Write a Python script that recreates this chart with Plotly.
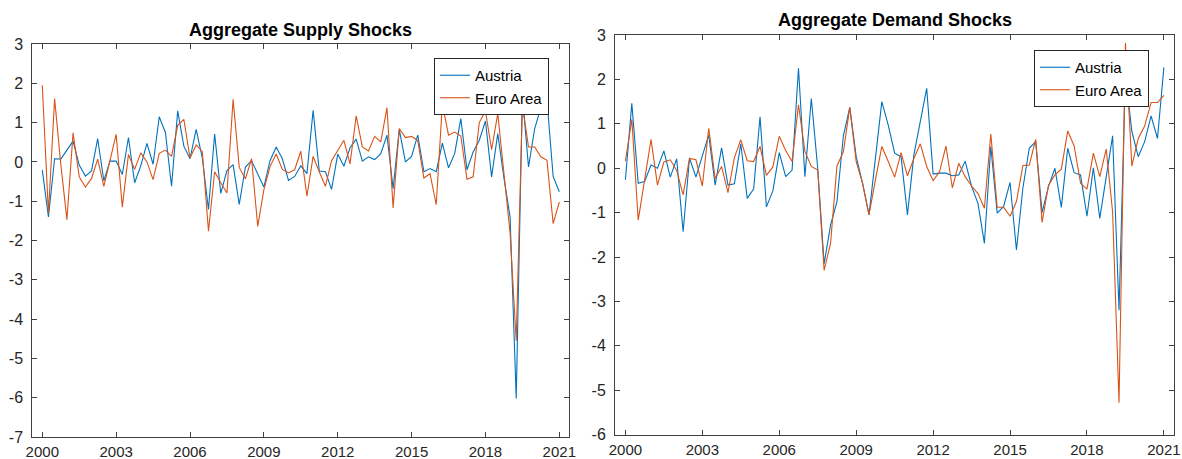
import plotly.graph_objects as go

# Quarterly observations 2000Q1 .. 2021Q1 (85 quarters), plotted as decimal years
quarters = [2000 + q / 4 for q in range(85)]

supply_austria = [
    -0.21, -1.40, 0.08, 0.07, 0.30, 0.53, -0.08, -0.36, -0.23, 0.59,
    -0.48, 0.02, 0.02, -0.32, 0.62, -0.53, -0.10, 0.47, -0.06, 1.15,
    0.75, -0.62, 1.30, 0.40, 0.08, 0.83, 0.10, -1.21, 0.71, -0.80,
    -0.22, -0.07, -1.08, -0.13, 0.03, -0.30, -0.64, 0.03, 0.38, 0.08,
    -0.47, -0.37, -0.10, -0.30, 1.31, -0.23, -0.25, -0.70, 0.20, -0.11,
    0.36, 0.58, 0.02, 0.13, 0.06, 0.21, 0.68, -0.68, 0.82, 0.00,
    0.14, 0.68, -0.25, -0.17, -0.25, 0.48, -0.15, 0.21, 1.10, -0.20,
    0.25, 0.55, 1.04, -0.38, 0.72, -0.40, -1.40, -6.02, 1.70, -0.13,
    0.85, 1.38, 1.57, -0.37, -0.76,
]
supply_euro = [
    1.95, -1.31, 1.61, -0.05, -1.47, 0.74, -0.38, -0.64, -0.42, 0.07,
    -0.62, 0.04, 0.70, -1.15, 0.19, -0.19, 0.23, 0.00, -0.45, 0.22,
    0.30, 0.14, 0.93, 1.08, 0.10, 0.43, 0.26, -1.76, -0.25, -0.53,
    -0.79, 1.59, -0.14, -0.43, 0.08, -1.64, -0.71, -0.12, 0.20, -0.19,
    -0.28, -0.20, 0.27, -0.87, 0.14, -0.25, -0.62, 0.03, 0.28, 0.55,
    -0.05, 1.17, 0.38, 0.28, 0.65, 0.51, 1.38, -1.17, 0.85, 0.62,
    0.65, 0.54, -0.41, -0.30, -1.09, 1.47, 0.68, 0.76, 0.66, -0.44,
    -0.38, 1.00, 1.30, 0.31, 1.23, -0.20, -1.80, -4.55, 1.45, 0.38,
    0.38, 0.13, 0.04, -1.57, -1.02,
]
demand_austria = [
    -0.26, 1.46, -0.34, -0.30, 0.07, 0.00, 0.39, -0.20, 0.21, -1.43,
    0.23, -0.20, 0.28, 0.75, -0.38, 0.46, -0.38, -0.35, 0.55, -0.68,
    -0.47, 1.16, -0.87, -0.51, 0.35, -0.19, -0.04, 2.25, -0.19, 1.57,
    0.00, -2.15, -1.28, -0.75, 0.73, 1.37, 0.26, -0.34, -1.05, 0.22,
    1.50, 0.97, 0.34, 0.26, -1.05, 0.30, 1.05, 1.80, -0.13, -0.11,
    -0.11, -0.17, -0.15, 0.16, -0.41, -0.79, -1.69, 0.49, -1.01, -0.86,
    -0.32, -1.84, -0.45, 0.45, 0.60, -1.00, -0.41, 0.00, -0.88, 0.45,
    -0.10, -0.15, -1.08, 0.01, -1.13, -0.19, 0.73, -3.20, 2.10, 0.83,
    0.26, 0.60, 1.18, 0.67, 2.27,
]
demand_euro = [
    0.16, 1.10, -1.17, -0.25, 0.65, -0.38, 0.14, 0.19, -0.05, -0.60,
    0.22, 0.19, -0.40, 0.90, -0.23, 0.04, -0.55, 0.24, 0.64, 0.17,
    0.15, 0.49, -0.16, 0.03, 0.72, 0.40, 0.15, 1.43, 0.38, 0.04,
    -0.04, -2.30, -1.69, 0.05, 0.37, 1.37, 0.15, -0.34, -1.05, -0.26,
    0.49, 0.15, -0.20, 0.35, -0.17, 0.22, 0.55, 0.04, -0.28, -0.08,
    0.50, -0.44, 0.11, -0.19, -0.40, -0.57, -0.90, 0.77, -0.88, -0.88,
    -1.08, -0.75, 0.06, 0.07, 0.65, -1.22, -0.38, -0.15, -0.02, 0.84,
    0.50, -0.34, -0.47, 0.34, -0.19, 0.43, -0.98, -5.28, 2.82, 0.05,
    0.67, 0.95, 1.48, 1.48, 1.64,
]

x_ticks = [2000, 2003, 2006, 2009, 2012, 2015, 2018, 2021]
supply_y_ticks = [3, 2, 1, 0, -1, -2, -3, -4, -5, -6, -7]
demand_y_ticks = [3, 2, 1, 0, -1, -2, -3, -4, -5, -6]
series_names = ["Austria", "Euro Area"]
titles = ["Aggregate Supply Shocks", "Aggregate Demand Shocks"]

BLUE = "#0072BD"
ORANGE = "#D95319"
AXC = "#404040"
TXT = "#262626"
FONT = "Liberation Sans, Arial, sans-serif"

# full page figure; the page margin is removed by the post script below
OFF = 0
W, H = 1182 - OFF, 459 - OFF

fig = go.Figure()

fig.add_trace(go.Scatter(x=quarters, y=supply_austria, mode="lines", name=series_names[0],
                         line=dict(color=BLUE, width=1.1), xaxis="x", yaxis="y", legend="legend"))
fig.add_trace(go.Scatter(x=quarters, y=supply_euro, mode="lines", name=series_names[1],
                         line=dict(color=ORANGE, width=1.1), xaxis="x", yaxis="y", legend="legend"))
fig.add_trace(go.Scatter(x=quarters, y=demand_austria, mode="lines", name=series_names[0],
                         line=dict(color=BLUE, width=1.1), xaxis="x2", yaxis="y2", legend="legend2"))
fig.add_trace(go.Scatter(x=quarters, y=demand_euro, mode="lines", name=series_names[1],
                         line=dict(color=ORANGE, width=1.1), xaxis="x2", yaxis="y2", legend="legend2"))


def px_x(p):
    return (p - OFF) / W


def px_y(p):
    return 1 - (p - OFF) / H


def axis_common(is_y):
    return dict(
        showgrid=False, zeroline=False, showline=True, linecolor=AXC, linewidth=1,
        mirror="ticks", ticks="inside", ticklen=5, tickcolor=AXC, tickwidth=1,
        tickfont=dict(family=FONT, size=16 if is_y else 15, color=TXT), automargin=False,
        ticklabelstandoff=5 if is_y else 1, ticklabeloverflow="allow",
    )


xr = [1999.594, 2021.406]
x_text = [str(v) for v in x_ticks]

fig.update_layout(
    width=W, height=H,
    margin=dict(l=0, r=0, t=0, b=0),
    paper_bgcolor="white", plot_bgcolor="white",
    xaxis=dict(domain=[px_x(32.3), px_x(569.3)], range=xr, tickvals=x_ticks, ticktext=x_text,
               anchor="y", **axis_common(False)),
    yaxis=dict(domain=[px_y(437), px_y(44)], range=[-7, 3], tickvals=supply_y_ticks,
               ticktext=[str(v) for v in supply_y_ticks], anchor="x", **axis_common(True)),
    xaxis2=dict(domain=[px_x(615), px_x(1174.3)], range=xr, tickvals=x_ticks, ticktext=x_text,
                anchor="y2", **axis_common(False)),
    yaxis2=dict(domain=[px_y(434.7), px_y(35)], range=[-6, 3], tickvals=demand_y_ticks,
                ticktext=[str(v) for v in demand_y_ticks], anchor="x2", **axis_common(True)),
    legend=dict(x=px_x(434), y=px_y(58), xanchor="left", yanchor="top",
                bgcolor="white", bordercolor=TXT, borderwidth=1,
                font=dict(family=FONT, size=15, color="black"),
                tracegroupgap=0, itemwidth=30),
    legend2=dict(x=px_x(1034), y=px_y(50), xanchor="left", yanchor="top",
                 bgcolor="white", bordercolor=TXT, borderwidth=1,
                 font=dict(family=FONT, size=15, color="black"),
                 tracegroupgap=0, itemwidth=30),
    annotations=[
        dict(text="<b>" + titles[0] + "</b>", x=px_x((32.3 + 569.3) / 2), y=px_y(30),
             xref="paper", yref="paper", xanchor="center", yanchor="middle",
             showarrow=False, font=dict(family=FONT, size=18, color="black")),
        dict(text="<b>" + titles[1] + "</b>", x=px_x((615 + 1174.3) / 2), y=px_y(20),
             xref="paper", yref="paper", xanchor="center", yanchor="middle",
             showarrow=False, font=dict(family=FONT, size=18, color="black")),
    ],
)

# remove the default page margin and scrollbars so the figure fills the window exactly
fig.write_html(
    "out.html",
    config={"displayModeBar": False},
    post_script="document.body.style.margin='0';"
                "document.documentElement.style.overflow='hidden';"
                "document.body.style.overflow='hidden';",
)
